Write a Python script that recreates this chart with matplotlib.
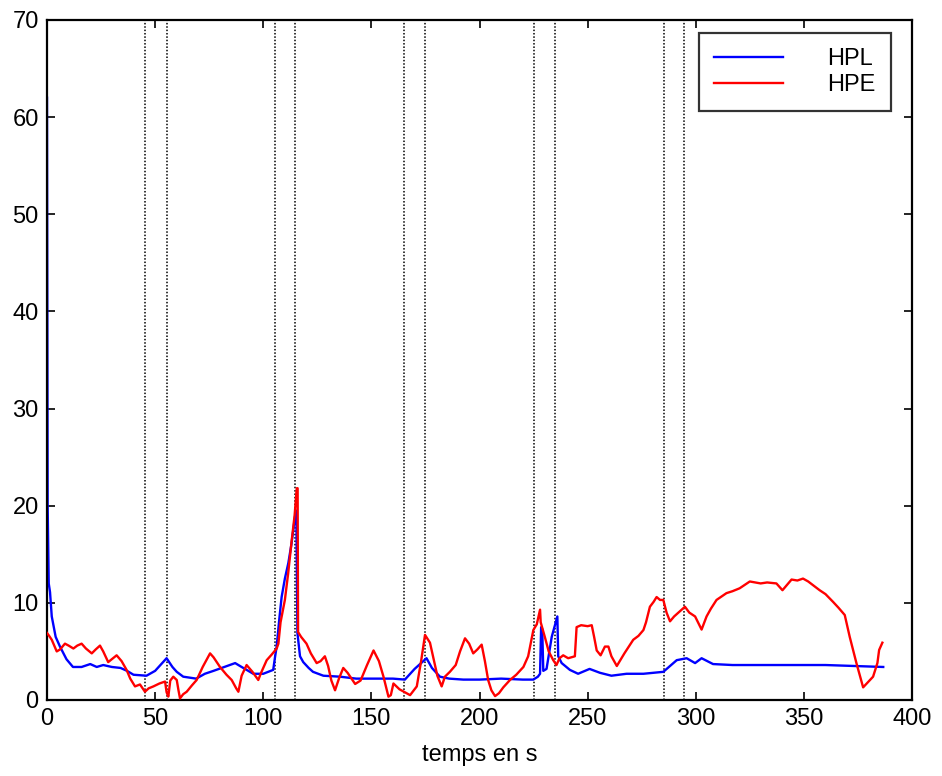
import numpy as np
import matplotlib
matplotlib.use('Agg')
import matplotlib.pyplot as plt

plt.rcParams['font.family'] = ['Liberation Sans', 'DejaVu Sans']

# HPL (blue)
hpl_t = [0, 0.3, 0.8, 1.4, 2.2, 4, 6, 9, 12, 16, 20, 23, 26, 30, 34, 37, 40, 46, 50,
         55.3, 58, 60, 63, 69, 73, 77, 82, 87, 90, 95.4, 100, 104.6, 105.5, 106.2, 107.5,
         108.5, 110, 111.6, 113, 114.7, 115.3, 115.8, 117, 118.5, 121, 123, 127.8, 135.5,
         143, 150, 160, 165.5, 170, 175.5, 178, 181.7, 186, 192.5, 200, 210, 220, 224.9,
         227, 228, 228.5, 229, 229.5, 231, 233.4, 236, 236.4, 238, 241.8, 245.6, 250.9,
         255.7, 261, 268, 275.8, 285, 291.2, 295.8, 299.7, 302.7, 308, 317, 342, 360, 386.7]
hpl_v = [62, 20, 12, 11.1, 8.6, 6.5, 5.5, 4.2, 3.4, 3.4, 3.7, 3.4, 3.6, 3.4, 3.3, 3.0, 2.6, 2.5, 3.0,
         4.3, 3.4, 2.9, 2.4, 2.2, 2.7, 3.0, 3.4, 3.8, 3.4, 2.7, 2.7, 3.1, 4.5, 5.5, 8.5,
         10.6, 12.5, 14.1, 16, 18.9, 19.5, 6.9, 4.5, 3.9, 3.3, 2.9, 2.5, 2.4,
         2.2, 2.2, 2.2, 2.1, 3.2, 4.3, 3.3, 2.4, 2.2, 2.1, 2.1, 2.2, 2.1, 2.1,
         2.4, 2.7, 7.5, 7.3, 3.0, 3.2, 6.5, 8.6, 4.5, 3.8, 3.1, 2.7, 3.2,
         2.8, 2.5, 2.7, 2.7, 2.9, 4.1, 4.3, 3.8, 4.3, 3.7, 3.6, 3.6, 3.6, 3.4]

# HPE (red)
hpe_t = [0, 1, 2.2, 4.5, 6, 8.3, 10, 12.2, 14, 16, 18, 20.7, 22.5, 24.5, 26, 28.3, 30, 32.2,
         34.5, 36.8, 38.5, 40.7, 43, 45.3, 47, 49.2, 52, 54.6, 55.3, 56.1, 57, 58.4, 60, 60.8,
         61.5, 63, 64.6, 67, 69.2, 72, 75.4, 77, 80, 83, 85.4, 87.5, 88.5, 90, 92.3, 95, 97.7,
         99, 101.6, 104, 106.2, 107, 108, 110, 111.5, 113.2, 114.5, 115.5, 115.9, 116.1, 117.5,
         120, 122, 124.7, 126.5, 128.5, 130, 131.5, 133.2, 135, 137, 139, 142.5, 145, 148, 151,
         153.5, 155.6, 157.9, 159, 160.2, 163, 167.9, 171, 173, 174.8, 177.1, 179, 180.5, 182.5,
         184, 186.3, 189, 191, 193.3, 195.2, 197.1, 199, 201, 202.5, 204, 205.5, 207.2, 209, 211,
         214.1, 217, 220.3, 222.5, 224.9, 226.5, 228, 228.3, 230.2, 232, 234.1, 235.6, 237, 238.7,
         241, 244.1, 244.9, 247, 250, 251.9, 253, 254.2, 256, 258, 259.6, 261, 263.5, 267, 271.1,
         273.5, 275.8, 277, 278.8, 280.5, 281.9, 283.5, 285, 286.5, 288.1, 290, 292, 293.5, 295,
         297, 299.7, 302.7, 305, 307, 309.6, 314.2, 317, 320.3, 325, 330, 333, 337.3, 340.1, 342,
         344.3, 347, 349.6, 352, 357.3, 360, 363.5, 366, 368.9, 371.2, 374.3, 377.4, 379.5, 382,
         384, 384.8, 386.3]
hpe_v = [6.9, 6.6, 6.2, 5.0, 5.2, 5.8, 5.6, 5.3, 5.6, 5.8, 5.3, 4.8, 5.2, 5.6, 5.0, 3.9, 4.2, 4.6,
         4.0, 3.1, 2.2, 1.4, 1.6, 0.85, 1.2, 1.4, 1.7, 1.9, 0.8, 0.35, 2.0, 2.4, 2.06, 1.0,
         0.17, 0.6, 0.85, 1.5, 2.06, 3.4, 4.8, 4.4, 3.4, 2.6, 2.06, 1.2, 0.85, 2.5, 3.6, 2.9, 2.06,
         2.8, 4.1, 4.7, 5.3, 5.8, 8, 10.3, 13, 16.5, 19, 21.8, 21.8, 7.0, 6.5,
         5.8, 4.8, 3.8, 4.0, 4.5, 3.5, 2.0, 1.0, 2.2, 3.3, 2.8, 1.65, 2.0, 3.6, 5.1,
         4.0, 2.4, 0.34, 0.5, 1.7, 1.1, 0.5, 1.4, 4, 6.7, 5.9, 4, 2.5, 1.4,
         2.4, 2.9, 3.6, 5, 6.35, 5.8, 4.8, 5.2, 5.7, 4.0, 2.06, 1.0, 0.4, 0.7, 1.3,
         2.06, 2.6, 3.4, 4.5, 7.2, 7.8, 9.3, 8.0, 6.5, 5, 4.1, 3.6, 4.3, 4.6,
         4.3, 4.5, 7.5, 7.7, 7.6, 7.7, 6.5, 5.1, 4.6, 5.5, 5.5, 4.5, 3.5, 4.8, 6.2,
         6.6, 7.2, 8, 9.6, 10.1, 10.6, 10.3, 10.3, 9.0, 8.1, 8.6, 9.0, 9.3, 9.6,
         9.0, 8.6, 7.25, 8.6, 9.4, 10.3, 11.0, 11.2, 11.5, 12.2, 12.0, 12.1, 12.0, 11.3, 11.8,
         12.4, 12.3, 12.5, 12.2, 11.3, 10.9, 10.1, 9.5, 8.75, 6.5, 3.8, 1.3, 1.8, 2.4,
         3.8, 5.15, 5.9]

# vertical markers
vlines = [45.3, 55.3, 105.3, 114.7, 165.3, 174.7, 225.3, 234.7, 285.3, 294.7]

fig = plt.figure(figsize=(9.42, 7.76), dpi=100)
ax = fig.add_axes([47 / 942, 1 - 700 / 776, 865 / 942, 680 / 776])

for xv in vlines:
    ax.axvline(xv, color='black', linestyle=(0, (1, 1.2)), linewidth=1.1, zorder=1)

ax.plot(hpl_t, hpl_v, color='#0000ff', linewidth=1.7, label='HPL', zorder=2)
ax.plot(hpe_t, hpe_v, color='#ff0000', linewidth=1.7, label='HPE', zorder=3)

ax.set_xlim(0, 400)
ax.set_ylim(0, 70)
ax.set_xticks(np.arange(0, 401, 50))
ax.set_yticks(np.arange(0, 71, 10))
ax.tick_params(direction='in', top=True, right=True, length=6, width=1.2,
               labelsize=17, pad=6)
for s in ax.spines.values():
    s.set_linewidth(1.6)
ax.set_xlabel('temps en s', fontsize=17, labelpad=10)

leg = ax.legend(loc='upper right', bbox_to_anchor=(0.976, 0.981), fontsize=17,
                frameon=True, fancybox=False, handlelength=2.9, handletextpad=1.9,
                labelspacing=0.15, borderpad=0.65, borderaxespad=0)
leg.get_frame().set_edgecolor('black')
leg.get_frame().set_linewidth(1.6)
for h in leg.get_lines():
    h.set_linewidth(1.7)

fig.savefig('out.png', dpi=100)
